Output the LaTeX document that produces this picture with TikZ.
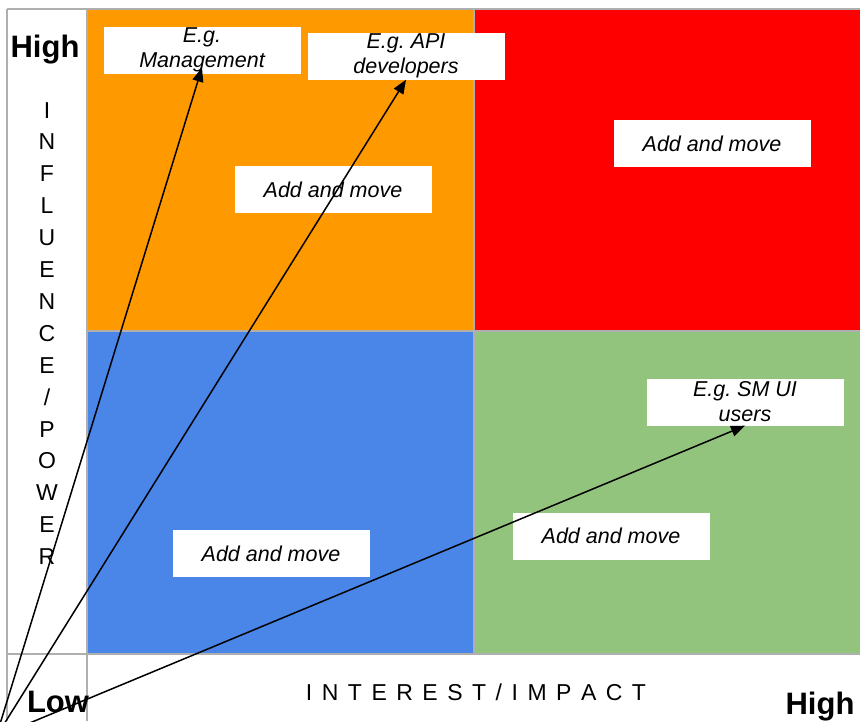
\documentclass[tikz,border=0pt]{standalone}
\usepackage{fontspec}
\setmainfont{Liberation Sans}
\usetikzlibrary{arrows.meta}
\definecolor{qorange}{RGB}{255,153,0}
\definecolor{qred}{RGB}{255,0,0}
\definecolor{qblue}{RGB}{74,134,232}
\definecolor{qgreen}{RGB}{147,196,125}
\definecolor{gridgray}{RGB}{175,175,175}
\begin{document}
\begin{tikzpicture}[x=1pt,y=-1pt,
  card/.style={fill=white,minimum width=197pt,minimum height=47pt,inner sep=0pt,
    align=center,font=\fontsize{21.5}{25}\selectfont\itshape},
  gridline/.style={gridgray,line width=2pt},
  pointer/.style={line width=1.5pt,-{Triangle[length=14pt,width=11pt]}},
  corner/.style={font=\fontsize{31}{34}\selectfont\bfseries,anchor=base},
  axisletter/.style={font=\fontsize{23}{26}\selectfont,anchor=base}]
\useasboundingbox (0,0) rectangle (860,721);
\clip (0,0) rectangle (860,721);
% Four quadrants
\fill[qorange] (87,9) rectangle (474,331);
\fill[qred] (474,9) rectangle (860,331);
\fill[qblue] (87,331) rectangle (474,654);
\fill[qgreen] (474,331) rectangle (860,654);
% Grid lines on top
\draw[gridline] (7,9) -- (860,9);
\draw[gridline] (7,654) -- (860,654);
\draw[gridline] (87,331) -- (860,331);
\draw[gridline] (7,9) -- (7,721);
\draw[gridline] (87,9) -- (87,721);
\draw[gridline] (474,9) -- (474,654);
% Axis labels
\node[corner] (highy) at (45,57) {High};
\node[corner] (lowx) at (58,712) {Low};
\node[corner] (highx) at (820,714) {High};
\node[axisletter] (xlabel) at (476,700) {\spaceskip=9.5pt\relax I N T E R E S T / I M P A C T};
\foreach \ch [count=\i from 0] in {I,N,F,L,U,E,N,C,E,\slash,P,O,W,E,R}
  \node[axisletter] (y\i) at (47,118+31.9*\i) {\ch};
% Stakeholder cards
\node[card] (mgmt) at (202,50) {E.g.\\Management};
\node[card] (api) at (406,56) {E.g.\ API\\developers};
\node[card] (addorange) at (333,189.5) {Add and move};
\node[card] (addred) at (712,143.5) {Add and move};
\node[card] (addblue) at (271,553.5) {Add and move};
\node[card] (addgreen) at (611,536) {Add and move};
\node[card] (smui) at (745,402) {E.g.\ SM UI\\users};
% Arrows from the corner
\coordinate (src) at (-4,737);
\draw[pointer] (src) -- ([yshift=6pt]mgmt.south);
\draw[pointer] (src) -- (api.south);
\draw[pointer] (src) -- (smui.south);
\end{tikzpicture}
\end{document}
